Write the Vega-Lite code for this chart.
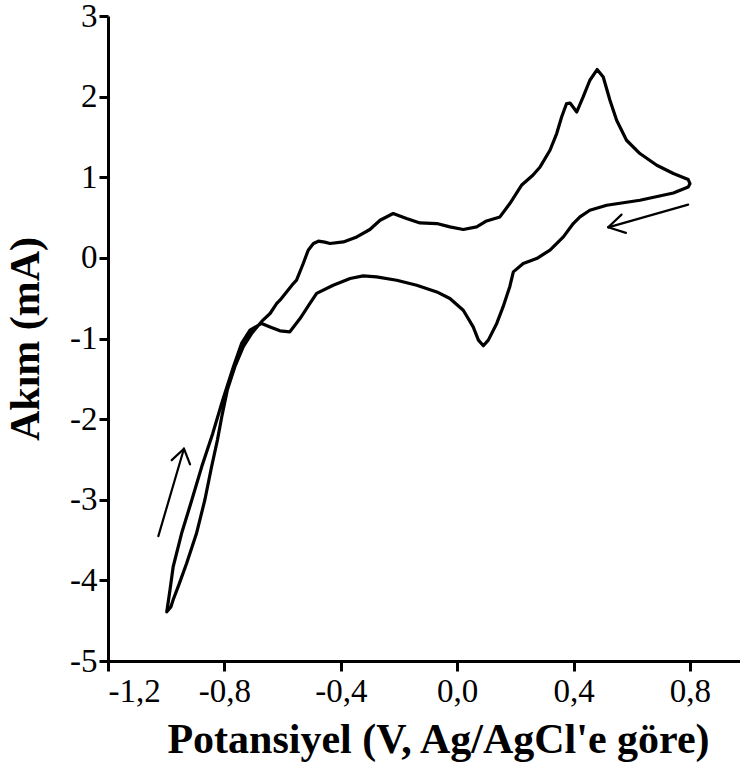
{
  "$schema": "https://vega.github.io/schema/vega-lite/v6.json",
  "width": 632,
  "height": 645,
  "autosize": {"type": "none"},
  "padding": {"left": 108, "top": 16, "right": 0, "bottom": 119},
  "background": "white",
  "config": {
    "view": {"stroke": null},
    "axis": {
      "grid": false,
      "domainColor": "black",
      "domainWidth": 3,
      "tickColor": "black",
      "tickWidth": 3,
      "tickSize": 10,
      "labelFont": "Liberation Serif",
      "labelFontSize": 33,
      "labelColor": "black",
      "titleFont": "Liberation Serif",
      "titleFontSize": 42,
      "titleFontWeight": "bold",
      "titleColor": "black"
    }
  },
  "datasets": {
    "cv": [
      {"n": 1, "V": -0.998, "I": -4.39},
      {"n": 2, "V": -0.984, "I": -4.33},
      {"n": 3, "V": -0.976, "I": -4.24},
      {"n": 4, "V": -0.955, "I": -4.04},
      {"n": 5, "V": -0.930, "I": -3.79},
      {"n": 6, "V": -0.896, "I": -3.42},
      {"n": 7, "V": -0.867, "I": -3.00},
      {"n": 8, "V": -0.844, "I": -2.59},
      {"n": 9, "V": -0.824, "I": -2.26},
      {"n": 10, "V": -0.809, "I": -1.97},
      {"n": 11, "V": -0.790, "I": -1.64},
      {"n": 12, "V": -0.764, "I": -1.35},
      {"n": 13, "V": -0.735, "I": -1.10},
      {"n": 14, "V": -0.705, "I": -0.93},
      {"n": 15, "V": -0.671, "I": -0.785},
      {"n": 16, "V": -0.643, "I": -0.69},
      {"n": 17, "V": -0.620, "I": -0.565},
      {"n": 18, "V": -0.609, "I": -0.525},
      {"n": 19, "V": -0.563, "I": -0.318},
      {"n": 20, "V": -0.552, "I": -0.277},
      {"n": 21, "V": -0.529, "I": -0.07},
      {"n": 22, "V": -0.512, "I": 0.095},
      {"n": 23, "V": -0.494, "I": 0.178},
      {"n": 24, "V": -0.477, "I": 0.207},
      {"n": 25, "V": -0.455, "I": 0.195},
      {"n": 26, "V": -0.437, "I": 0.178},
      {"n": 27, "V": -0.391, "I": 0.198},
      {"n": 28, "V": -0.345, "I": 0.26},
      {"n": 29, "V": -0.300, "I": 0.352},
      {"n": 30, "V": -0.265, "I": 0.467},
      {"n": 31, "V": -0.220, "I": 0.55},
      {"n": 32, "V": -0.174, "I": 0.488},
      {"n": 33, "V": -0.128, "I": 0.433},
      {"n": 34, "V": -0.070, "I": 0.426},
      {"n": 35, "V": -0.025, "I": 0.384},
      {"n": 36, "V": 0.021, "I": 0.352},
      {"n": 37, "V": 0.067, "I": 0.384},
      {"n": 38, "V": 0.101, "I": 0.458},
      {"n": 39, "V": 0.147, "I": 0.508},
      {"n": 40, "V": 0.181, "I": 0.674},
      {"n": 41, "V": 0.221, "I": 0.90},
      {"n": 42, "V": 0.260, "I": 1.025},
      {"n": 43, "V": 0.285, "I": 1.128},
      {"n": 44, "V": 0.319, "I": 1.335},
      {"n": 45, "V": 0.342, "I": 1.542},
      {"n": 46, "V": 0.359, "I": 1.748},
      {"n": 47, "V": 0.376, "I": 1.914},
      {"n": 48, "V": 0.388, "I": 1.92},
      {"n": 49, "V": 0.411, "I": 1.81},
      {"n": 50, "V": 0.433, "I": 1.996},
      {"n": 51, "V": 0.456, "I": 2.203},
      {"n": 52, "V": 0.481, "I": 2.336},
      {"n": 53, "V": 0.502, "I": 2.244},
      {"n": 54, "V": 0.525, "I": 1.955},
      {"n": 55, "V": 0.548, "I": 1.707},
      {"n": 56, "V": 0.582, "I": 1.459},
      {"n": 57, "V": 0.628, "I": 1.294},
      {"n": 58, "V": 0.686, "I": 1.149},
      {"n": 59, "V": 0.743, "I": 1.046},
      {"n": 60, "V": 0.794, "I": 0.972},
      {"n": 61, "V": 0.800, "I": 0.92},
      {"n": 62, "V": 0.794, "I": 0.88},
      {"n": 63, "V": 0.743, "I": 0.805},
      {"n": 64, "V": 0.628, "I": 0.715},
      {"n": 65, "V": 0.514, "I": 0.653},
      {"n": 66, "V": 0.456, "I": 0.591},
      {"n": 67, "V": 0.422, "I": 0.508},
      {"n": 68, "V": 0.399, "I": 0.426},
      {"n": 69, "V": 0.365, "I": 0.26},
      {"n": 70, "V": 0.319, "I": 0.095},
      {"n": 71, "V": 0.273, "I": -0.008},
      {"n": 72, "V": 0.227, "I": -0.07},
      {"n": 73, "V": 0.193, "I": -0.174},
      {"n": 74, "V": 0.181, "I": -0.355},
      {"n": 75, "V": 0.158, "I": -0.605},
      {"n": 76, "V": 0.136, "I": -0.813},
      {"n": 77, "V": 0.107, "I": -1.02},
      {"n": 78, "V": 0.090, "I": -1.09},
      {"n": 79, "V": 0.073, "I": -1.02},
      {"n": 80, "V": 0.055, "I": -0.856},
      {"n": 81, "V": 0.021, "I": -0.649},
      {"n": 82, "V": -0.025, "I": -0.504},
      {"n": 83, "V": -0.070, "I": -0.422},
      {"n": 84, "V": -0.139, "I": -0.339},
      {"n": 85, "V": -0.208, "I": -0.277},
      {"n": 86, "V": -0.277, "I": -0.236},
      {"n": 87, "V": -0.323, "I": -0.223},
      {"n": 88, "V": -0.368, "I": -0.256},
      {"n": 89, "V": -0.426, "I": -0.339},
      {"n": 90, "V": -0.483, "I": -0.441},
      {"n": 91, "V": -0.506, "I": -0.565},
      {"n": 92, "V": -0.540, "I": -0.752},
      {"n": 93, "V": -0.575, "I": -0.917},
      {"n": 94, "V": -0.609, "I": -0.905},
      {"n": 95, "V": -0.643, "I": -0.856},
      {"n": 96, "V": -0.672, "I": -0.813},
      {"n": 97, "V": -0.712, "I": -0.897},
      {"n": 98, "V": -0.741, "I": -1.061},
      {"n": 99, "V": -0.769, "I": -1.352},
      {"n": 100, "V": -0.806, "I": -1.765},
      {"n": 101, "V": -0.840, "I": -2.177},
      {"n": 102, "V": -0.878, "I": -2.592},
      {"n": 103, "V": -0.912, "I": -3.004},
      {"n": 104, "V": -0.947, "I": -3.416},
      {"n": 105, "V": -0.976, "I": -3.831},
      {"n": 106, "V": -0.987, "I": -4.12},
      {"n": 107, "V": -0.998, "I": -4.39}
    ],
    "arrows": [
      {"x": -1.027, "y": -3.451, "x2": -0.939, "y2": -2.367},
      {"x": -0.981, "y": -2.509, "x2": -0.939, "y2": -2.367},
      {"x": -0.918, "y": -2.562, "x2": -0.939, "y2": -2.367},
      {"x": 0.794, "y": 0.661, "x2": 0.519, "y2": 0.379},
      {"x": 0.565, "y": 0.537, "x2": 0.519, "y2": 0.379},
      {"x": 0.580, "y": 0.310, "x2": 0.519, "y2": 0.379}
    ]
  },
  "layer": [
    {
      "mark": {"type": "rule", "color": "black", "strokeWidth": 2.5, "strokeDash": [10, 6]},
      "encoding": {"y": {"datum": 0, "type": "quantitative"}}
    },
    {
      "data": {"name": "cv"},
      "mark": {"type": "line", "color": "black", "strokeWidth": 3.2, "strokeJoin": "round", "strokeCap": "round"},
      "encoding": {
        "x": {
          "field": "V",
          "type": "quantitative",
          "scale": {"domain": [-1.2, 0.972], "nice": false, "zero": false},
          "axis": {
            "title": "Potansiyel (V, Ag/AgCl'e göre)",
            "values": [-1.2, -0.8, -0.4, 0, 0.4, 0.8],
            "labelExpr": "(datum.value < 0 ? '-' : '') + replace(format(abs(datum.value), '.1f'), '.', ',')",
            "labelPadding": 4,
            "titlePadding": 11,
            "titleX": 330
          }
        },
        "y": {
          "field": "I",
          "type": "quantitative",
          "scale": {"domain": [-5, 3], "nice": false, "zero": false},
          "axis": {
            "title": "Akım (mA)",
            "values": [-5, -4, -3, -2, -1, 0, 1, 2, 3],
            "labelExpr": "(datum.value < 0 ? '-' : '') + format(abs(datum.value), 'd')",
            "tickSize": 9,
            "labelPadding": 2,
            "titlePadding": 22
          }
        },
        "order": {"field": "n", "type": "quantitative"}
      }
    },
    {
      "data": {"name": "arrows"},
      "mark": {"type": "rule", "color": "black", "strokeWidth": 2.2, "strokeCap": "round"},
      "encoding": {
        "x": {"field": "x", "type": "quantitative"},
        "y": {"field": "y", "type": "quantitative"},
        "x2": {"field": "x2"},
        "y2": {"field": "y2"}
      }
    }
  ]
}
